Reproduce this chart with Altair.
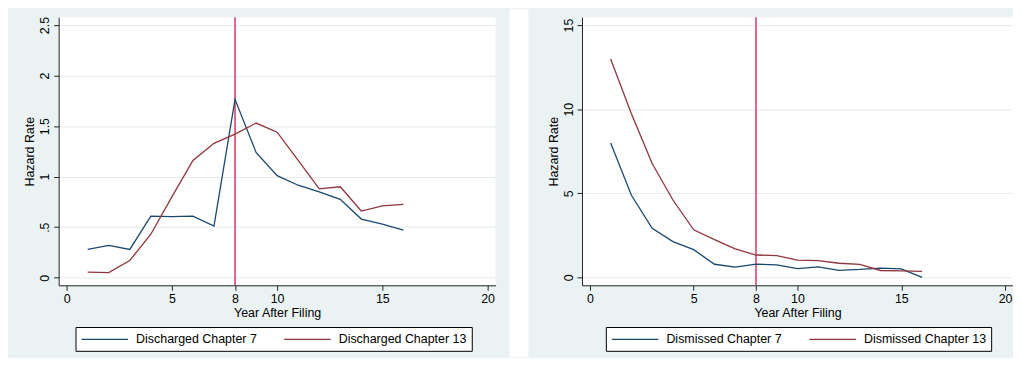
import altair as alt
import pandas as pd

years = list(range(1, 17))
x_ticks = [0, 5, 8, 10, 15, 20]

# Left panel: discharge hazard rates
dis_names = ["Discharged Chapter 7", "Discharged Chapter 13"]
dis7 = [0.28, 0.32, 0.28, 0.61, 0.605, 0.61, 0.51, 1.765, 1.24, 1.01, 0.915, 0.85, 0.775, 0.58, 0.53, 0.47]
dis13 = [0.055, 0.05, 0.17, 0.43, 0.80, 1.16, 1.33, 1.42, 1.53, 1.44, 1.16, 0.88, 0.90, 0.66, 0.71, 0.725]
dis_yticks = [0, 0.5, 1, 1.5, 2, 2.5]

# Right panel: dismissal hazard rates
dsm_names = ["Dismissed Chapter 7", "Dismissed Chapter 13"]
dsm7 = [7.99, 4.88, 2.92, 2.13, 1.65, 0.78, 0.61, 0.79, 0.74, 0.52, 0.63, 0.42, 0.47, 0.55, 0.51, 0.0]
dsm13 = [12.98, 9.73, 6.77, 4.6, 2.83, 2.24, 1.69, 1.33, 1.29, 1.03, 1.0, 0.84, 0.77, 0.41, 0.39, 0.36]
dsm_yticks = [0, 5, 10, 15]

cut_year = [8]

BLUE = "#1a476f"
RED = "#90353b"
XLINE = "#dc3564"
BG = "#eaf2f3"
FONT = "Liberation Sans"
H = 270


def panel(names, s7, s13, ydom, yticks, W, legend_x, gap):
    df = pd.DataFrame({
        "year": years + years,
        "rate": s7 + s13,
        "series": [names[0]] * len(years) + [names[1]] * len(years),
    })
    x = alt.X("year:Q",
              scale=alt.Scale(domain=[-0.38, 20.38], nice=False, zero=False),
              axis=alt.Axis(values=x_ticks, title="Year After Filing", grid=False,
                            format="~g", labelPadding=2, titlePadding=2))
    y = alt.Y("rate:Q",
              scale=alt.Scale(domain=ydom, nice=False, zero=False),
              axis=alt.Axis(values=yticks, title="Hazard Rate", grid=True,
                            format="~g", labelExpr="replace(datum.label, '0.', '.')",
                            labelAngle=270, labelAlign="center",
                            labelBaseline="alphabetic", labelPadding=5,
                            titlePadding=2))
    rule = alt.Chart(pd.DataFrame({"year": cut_year})).mark_rule(
        color=XLINE, strokeWidth=1.5).encode(x=alt.X("year:Q"))
    lines = alt.Chart(df).mark_line(strokeWidth=1.3).encode(
        x=x, y=y,
        color=alt.Color("series:N",
                        scale=alt.Scale(domain=names, range=[BLUE, RED]),
                        legend=alt.Legend(orient="none", legendX=legend_x, legendY=312,
                                          direction="horizontal", title=None,
                                          fillColor="white", strokeColor="black",
                                          padding=5, symbolType="M-3.6,0H3.6",
                                          symbolSize=169, symbolStrokeWidth=1.3,
                                          symbolOffset=17,
                                          labelFont=FONT, labelFontSize=12.5,
                                          labelColor="black", labelOffset=24,
                                          columnPadding=24)))
    layers = [rule, lines]
    if gap:
        g = alt.Chart(pd.DataFrame({"a": [0]})).mark_rect(color="white").encode(
            x=alt.value(W + 14), x2=alt.value(W + 33),
            y=alt.value(-8), y2=alt.value(H + 72))
        layers.append(g)
    return alt.layer(*layers).properties(width=W, height=H)


left = panel(dis_names, dis7, dis13, [-0.075, 2.578], dis_yticks, 440, 17, True)
right = panel(dsm_names, dsm7, dsm13, [-0.47, 15.47], dsm_yticks, 434, 24, False)

chart = alt.hconcat(left, right, spacing=19).resolve_scale(color="independent").properties(
    padding={"left": 15, "top": 0, "right": 0, "bottom": 0},
    background=BG,
).configure_view(fill="white", strokeWidth=0).configure_axis(
    domainColor="#222", tickColor="#222", labelColor="black", titleColor="black",
    labelFont=FONT, titleFont=FONT, labelFontSize=12.5, titleFontSize=12.5,
    titleFontWeight="normal", tickSize=5, gridColor="#e4eced", domainWidth=1,
)

chart.save("out.html", embed_options={"renderer": "svg", "actions": False})
